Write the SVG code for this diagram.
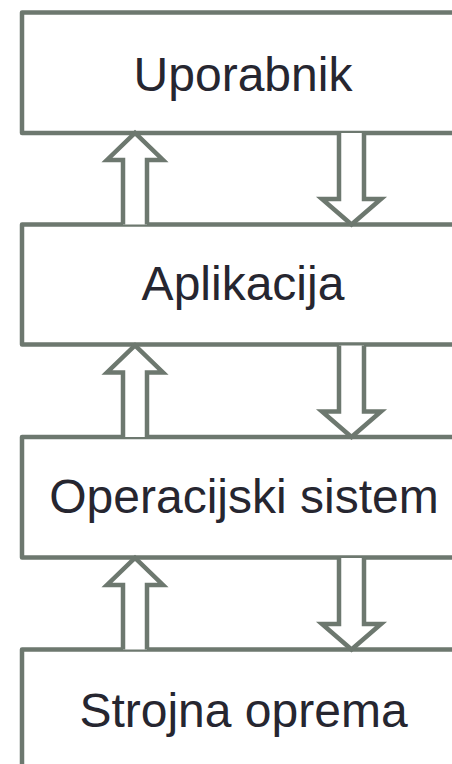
<svg xmlns="http://www.w3.org/2000/svg" width="452" height="764" viewBox="0 0 452 764">
  <style>
    .box { fill: #ffffff; stroke: #6d786f; stroke-width: 4.5; stroke-linejoin: round; }
    .arrow { fill: #ffffff; stroke: #6d786f; stroke-width: 4.5; stroke-linejoin: miter; }
    .label { font-family: "Liberation Sans", Arial, sans-serif; font-size: 48px; fill: #262630; text-anchor: middle; }
  </style>
  <rect width="452" height="764" fill="#ffffff"/>

  <g id="layer-uporabnik">
    <rect class="box" x="22" y="12.5" width="442" height="120.5"/>
    <text class="label" x="243" y="91">Uporabnik</text>
  </g>
  <g id="layer-aplikacija">
    <rect class="box" x="22" y="224.5" width="442" height="120"/>
    <text class="label" x="243" y="300">Aplikacija</text>
  </g>
  <g id="layer-os">
    <rect class="box" x="22" y="437" width="442" height="120.5"/>
    <text class="label" x="244" y="513">Operacijski sistem</text>
  </g>
  <g id="layer-strojna">
    <rect class="box" x="22" y="649.5" width="442" height="130"/>
    <text class="label" x="243.5" y="727">Strojna oprema</text>
  </g>

  <g id="connectors">
    <!-- upward hollow arrows (left column) -->
    <path class="arrow" d="M123,224.5 V160 H107 L135,133 L163,160 H147 V224.5"/>
    <path class="arrow" d="M123,437 V372.5 H107 L135,345.5 L163,372.5 H147 V437"/>
    <path class="arrow" d="M123,649.5 V585 H107 L135,558 L163,585 H147 V649.5"/>
    <!-- downward hollow arrows (right column) -->
    <path class="arrow" d="M339,133 V199 H322 L351.5,224.5 L381,199 H364 V133"/>
    <path class="arrow" d="M339,345.5 V411.5 H322 L351.5,437 L381,411.5 H364 V345.5"/>
    <path class="arrow" d="M339,558 V624 H322 L351.5,649.5 L381,624 H364 V558"/>
  </g>
</svg>
